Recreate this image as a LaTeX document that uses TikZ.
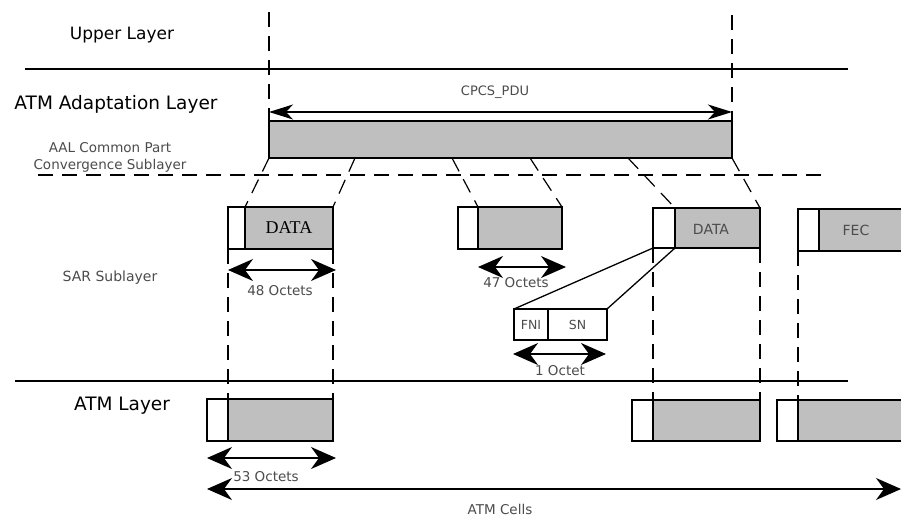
\documentclass[tikz,border=0pt]{standalone}
\usepackage{fontspec}
\setmainfont{DejaVu Sans}
\newfontfamily\serifdata{Liberation Serif}
\usetikzlibrary{arrows.meta}
\tikzset{
  hdr/.style={draw, line width=1.3pt, fill=white, inner sep=0pt, outer sep=0pt, anchor=north west},
  dat/.style={draw, line width=1.3pt, fill=black!25, inner sep=0pt, outer sep=0pt, anchor=north west},
  dline/.style={line width=1.2pt, dash pattern=on 15pt off 9pt},
  solidline/.style={line width=1.3pt},
  bigtips/.style={line width=1.4pt, {Stealth[length=25pt,width=22pt,inset=8pt]}-{Stealth[length=25pt,width=22pt,inset=8pt]}},
  pdutips/.style={line width=1.3pt, {Stealth[length=24pt,width=15pt,inset=7pt]}-{Stealth[length=24pt,width=15pt,inset=7pt]}},
  layerlbl/.style={font=\fontsize{18.5pt}{20pt}\selectfont, text=black, inner sep=0pt},
  smalllbl/.style={font=\fontsize{13.5pt}{16pt}\selectfont, text=black!70, inner sep=0pt},
  boxlbl/.style={font=\fontsize{14pt}{16pt}\selectfont, text=black!70, inner sep=0pt}
}
\begin{document}
\begin{tikzpicture}[x=1pt,y=-1pt]
\clip (0,0) rectangle (901,516);
\fill[white] (0,0) rectangle (901,516);

% layer separators
\coordinate (ul1) at (25,69);  \coordinate (ul2) at (848,69);
\coordinate (al1) at (15,381); \coordinate (al2) at (848,381);
\coordinate (hl1) at (38,175); \coordinate (hl2) at (826,175);
\draw[solidline] (ul1) -- (ul2);
\draw[solidline] (al1) -- (al2);
\draw[dline] (hl1) -- (hl2);

% layer labels
\node[layerlbl, font=\fontsize{17pt}{19pt}\selectfont] (upper) at (122,35) {Upper Layer};
\node[layerlbl] (aal) at (116,104) {ATM Adaptation Layer};
\node[smalllbl] (cps1) at (110,148) {AAL Common Part};
\node[smalllbl] (cps2) at (110,166) {Convergence Sublayer};
\node[smalllbl, font=\fontsize{14pt}{16pt}\selectfont] (sar) at (110,278) {SAR Sublayer};
\node[layerlbl] (atm) at (122,406) {ATM Layer};

% CPCS PDU
\node[dat, minimum width=463pt, minimum height=37pt] (cpcs) at (269,121) {};
\coordinate (tl) at (269,12);
\coordinate (tr) at (732,15);
\draw[dline] (tl) -- (cpcs.north west);
\draw[dline] (tr) -- (cpcs.north east);
\coordinate (pduL) at (269,112);
\coordinate (pduR) at (732,112);
\draw[pdutips] (pduL) -- (pduR);
\node[smalllbl, font=\fontsize{13pt}{15pt}\selectfont] (pdulbl) at (495,92) {CPCS\_PDU};

% SAR boxes
\node[hdr, minimum width=17pt, minimum height=42pt] (s1h) at (228,207) {};
\node[dat, minimum width=88pt, minimum height=42pt, font=\serifdata\fontsize{18pt}{20pt}\selectfont] (s1d) at (s1h.north east) {DATA};

\node[hdr, minimum width=20pt, minimum height=42pt] (s2h) at (458,207) {};
\node[dat, minimum width=84pt, minimum height=42pt] (s2d) at (s2h.north east) {};

\node[hdr, minimum width=22pt, minimum height=40pt] (s3h) at (653,208) {};
\node[dat, minimum width=85pt, minimum height=40pt] (s3d) at (s3h.north east) {};
\node[boxlbl] (s3t) at (711,229) {DATA};

\node[hdr, minimum width=21pt, minimum height=42pt] (s4h) at (798,209) {};
\node[dat, minimum width=120pt, minimum height=42pt] (s4d) at (s4h.north east) {};
\node[boxlbl] (fec) at (856,230) {FEC};

% connectors CPCS -> SAR
\coordinate (c1) at (355,158);
\coordinate (c2) at (452,158);
\coordinate (c3) at (530,158);
\coordinate (c4) at (628,158);
\draw[dline] (cpcs.south west) -- (s1d.north west);
\draw[dline] (c1) -- (s1d.north east);
\draw[dline] (c2) -- (s2d.north west);
\draw[dline] (c3) -- (s2d.north east);
\draw[dline] (c4) -- (s3d.north west);
\draw[dline] (cpcs.south east) -- (s3d.north east);

% dimension arrows SAR
\coordinate (o48L) at (228,270); \coordinate (o48R) at (336,270);
\draw[bigtips] (o48L) -- (o48R);
\node[smalllbl] (o48) at (280,291) {48 Octets};
\coordinate (o47L) at (478,267); \coordinate (o47R) at (566,267);
\draw[bigtips] (o47L) -- (o47R);
\node[smalllbl] (o47) at (516,283) {47 Octets};

% FNI / SN zoom
\node[hdr, minimum width=34pt, minimum height=31pt, font=\fontsize{12.5pt}{14pt}\selectfont, text=black!70] (fh) at (514,309) {FNI};
\node[hdr, minimum width=59pt, minimum height=31pt, font=\fontsize{12.5pt}{14pt}\selectfont, text=black!70] (fd) at (fh.north east) {SN};
\draw[solidline] (s3h.south west) -- (fh.north west);
\draw[solidline] (s3h.south east) -- (fd.north east);
\coordinate (o1L) at (513,354); \coordinate (o1R) at (606,354);
\draw[bigtips] (o1L) -- (o1R);
\node[smalllbl] (o1) at (560,371) {1 Octet};

% ATM cells
\node[hdr, minimum width=21pt, minimum height=42pt] (a1h) at (207,399) {};
\node[dat, minimum width=105pt, minimum height=42pt] (a1d) at (a1h.north east) {};
\node[hdr, minimum width=21pt, minimum height=41pt] (a3h) at (632,400) {};
\node[dat, minimum width=107pt, minimum height=41pt] (a3d) at (a3h.north east) {};
\node[hdr, minimum width=21pt, minimum height=41pt] (a4h) at (777,400) {};
\node[dat, minimum width=140pt, minimum height=41pt] (a4d) at (a4h.north east) {};

% vertical dashed SAR -> ATM
\draw[dline] (s1h.south west) -- (a1h.north east);
\draw[dline] (s1d.south east) -- (a1d.north east);
\draw[dline] (s3h.south west) -- (a3h.north east);
\draw[dline] (s3d.south east) -- (a3d.north east);
\draw[dline] (s4h.south west) -- (a4h.north east);

% ATM dimension arrows
\coordinate (o53L) at (207,458); \coordinate (o53R) at (336,458);
\draw[bigtips] (o53L) -- (o53R);
\node[smalllbl] (o53) at (266,477) {53 Octets};
\coordinate (cellL) at (207,489); \coordinate (cellR) at (901,489);
\draw[bigtips] (cellL) -- (cellR);
\node[smalllbl] (cells) at (500,509) {ATM Cells};
\end{tikzpicture}
\end{document}
